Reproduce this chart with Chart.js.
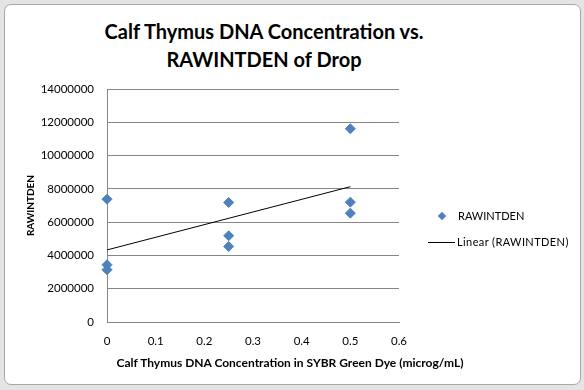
<!DOCTYPE html>
<html>
<head>
<meta charset="utf-8">
<script src="https://cdn.jsdelivr.net/npm/chart.js@4.4.1/dist/chart.umd.min.js"></script>
<style>
  html, body { margin: 0; padding: 0; }
  body { width: 584px; height: 390px; background: #e4e4e4; position: relative; overflow: hidden; font-family: Lato, "Open Sans", sans-serif; }
  #box { position: absolute; left: 4px; top: 4px; width: 575px; height: 379px; background: #fff; border: 1px solid #a8a8a8; border-radius: 7px; }
  #wrap { position: absolute; left: 0; top: 0; width: 584px; height: 390px; }
  #title { position: absolute; left: -56px; width: 640px; top: 17px; text-align: center; font-weight: bold; font-size: 20px; line-height: 28px; color: #000; }
  #xtitle { position: absolute; left: 0; width: 580px; top: 355px; text-align: center; font-weight: bold; font-size: 12px; color: #000; }
  .leg { position: absolute; font-size: 11px; color: #000; white-space: nowrap; }
  .dia { position: absolute; width: 6px; height: 6px; background: #4f81bd; transform: rotate(45deg); }
  .ln { position: absolute; height: 1px; background: #000; }
</style>
</head>
<body>
<div id="box"></div>
<div id="title">Calf Thymus DNA Concentration vs.<br>RAWINTDEN of Drop</div>
<div id="wrap"><canvas id="c" width="584" height="390"></canvas></div>
<div id="xtitle">Calf Thymus DNA Concentration in SYBR Green Dye (microg/mL)</div>
<div class="dia" style="left:439px; top:213px;"></div>
<div class="leg" style="left:458px; top:209px;">RAWINTDEN</div>
<div class="ln" style="left:428px; top:242px; width:27px;"></div>
<div class="leg" style="left:457px; top:235px; letter-spacing:0.4px;">Linear (RAWINTDEN)</div>
<script>
// measured points
const concX = [0, 0, 0, 0.25, 0.25, 0.25, 0.5, 0.5, 0.5];
const rawIntDen = [7380000, 3440000, 3140000, 7180000, 5180000, 4540000, 11610000, 7200000, 6540000];
// linear trendline ends
const trendX = [0, 0.5];
const trendY = [4330000, 8130000];
const xTicks = [0, 0.1, 0.2, 0.3, 0.4, 0.5, 0.6];

const tickFont = { family: 'Lato, sans-serif', size: 11.5 };

new Chart(document.getElementById('c'), {
  type: 'scatter',
  data: {
    datasets: [
      {
        label: 'RAWINTDEN',
        data: concX.map((x, i) => ({ x: x, y: rawIntDen[i] })),
        backgroundColor: '#4f81bd',
        borderColor: '#4f81bd',
        pointStyle: 'rectRot',
        pointRadius: 5,
        pointHoverRadius: 5,
        clip: false,
        order: 2
      },
      {
        label: 'Linear (RAWINTDEN)',
        type: 'line',
        data: trendX.map((x, i) => ({ x: x, y: trendY[i] })),
        borderColor: '#000',
        borderWidth: 1,
        pointRadius: 0,
        fill: false,
        order: 1
      }
    ]
  },
  options: {
    responsive: false,
    animation: false,
    layout: { padding: { left: 0, top: 89, right: 185, bottom: 0 } },
    plugins: {
      legend: { display: false },
      tooltip: { enabled: false }
    },
    scales: {
      x: {
        type: 'linear',
        min: 0,
        max: 0.6,
        afterBuildTicks: s => { s.ticks = xTicks.map(v => ({ value: v })); },
        afterFit: s => { s.height = 68; },
        grid: { display: false, drawTicks: false },
        border: { color: '#868686' },
        ticks: { color: '#000', font: tickFont, padding: 12, maxRotation: 0, callback: v => String(v) }
      },
      y: {
        min: 0,
        max: 14000000,
        afterFit: s => { s.width = 107; },
        grid: { color: '#868686', drawTicks: false },
        border: { color: '#868686' },
        ticks: { stepSize: 2000000, color: '#000', font: tickFont, padding: 13, callback: v => String(v) },
        title: {
          display: true,
          text: 'RAWINTDEN',
          color: '#000',
          font: { family: 'Lato, sans-serif', size: 10, weight: 'bold' },
          padding: { top: 25, bottom: 0 }
        }
      }
    }
  }
});
</script>
</body>
</html>
